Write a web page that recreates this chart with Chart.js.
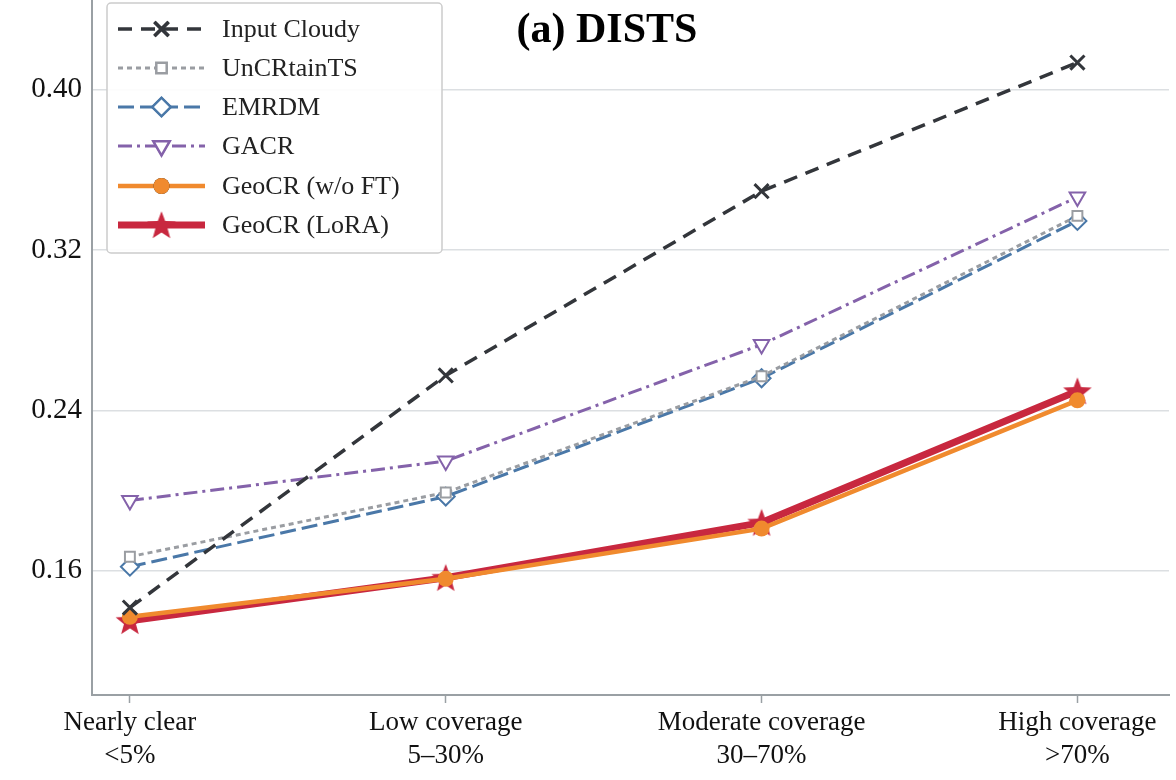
<!DOCTYPE html>
<html><head><meta charset="utf-8">
<script src="https://cdn.jsdelivr.net/npm/chart.js@4"></script>
<style>body{margin:0;background:#fff}#c{display:block}
#wrap{width:1176px;height:780px;overflow:hidden;position:relative}
#inner{position:absolute;left:0;top:-26px;width:1191px;height:806px}</style>
</head><body>
<div id="wrap"><div id="inner"><canvas id="c"></canvas></div></div>
<script>
const categories = [["Nearly clear", "<5%"], ["Low coverage", "5–30%"], ["Moderate coverage", "30–70%"], ["High coverage", ">70%"]];
const yTicks = [0.16, 0.24, 0.32, 0.40];
const inputCloudy = [0.1416, 0.2574, 0.3493, 0.4135];
const uncrtaints = [0.167, 0.199, 0.257, 0.337];
const emrdm = [0.162, 0.197, 0.256, 0.3345];
const gacr = [0.195, 0.2147, 0.2728, 0.3464];
const geocrNoFT = [0.137, 0.156, 0.181, 0.245];
const geocrLora = [0.135, 0.1565, 0.184, 0.2496];

const FONT = "'Liberation Serif', 'DejaVu Serif', serif";
const OY = 26;

function starImg(size, color) {
  const c = document.createElement("canvas");
  c.width = c.height = size;
  const g = c.getContext("2d");
  g.fillStyle = color;
  g.beginPath();
  for (let i = 0; i < 10; i++) {
    const r = i % 2 ? size * 0.21 : size * 0.5;
    const a = -Math.PI / 2 + i * Math.PI / 5;
    g.lineTo(size / 2 + r * Math.cos(a), size / 2 + r * Math.sin(a) + size * 0.04);
  }
  g.closePath();
  g.fill();
  return c;
}
const star = starImg(30, "#c8283f");

const pts = arr => arr.map((v, i) => ({ x: i, y: v }));

const series = [
  { label: "Input Cloudy", data: pts(inputCloudy), borderColor: "#33363b", borderWidth: 3.5, borderDash: [14, 9],
    pointStyle: "crossRot", pointRadius: 10, pointBorderWidth: 3, pointBorderColor: "#33363b" },
  { label: "UnCRtainTS", data: pts(uncrtaints), borderColor: "#9a9da2", borderWidth: 3, borderDash: [5, 4],
    pointStyle: "rect", pointRadius: 7, pointBorderWidth: 2, pointBorderColor: "#9a9da2", pointBackgroundColor: "#fff" },
  { label: "EMRDM", data: pts(emrdm), borderColor: "#4a78a8", borderWidth: 3, borderDash: [16, 6],
    pointStyle: "rectRot", pointRadius: 9, pointBorderWidth: 2, pointBorderColor: "#4a78a8", pointBackgroundColor: "#fff" },
  { label: "GACR", data: pts(gacr), borderColor: "#8462aa", borderWidth: 3, borderDash: [14, 5, 3, 5],
    pointStyle: "triangle", rotation: 180, pointRadius: 9, pointBorderWidth: 2, pointBorderColor: "#8462aa", pointBackgroundColor: "#fff" },
  { label: "GeoCR (w/o FT)", data: pts(geocrNoFT), borderColor: "#f08a2e", borderWidth: 4.5,
    pointStyle: "circle", pointRadius: 8, pointBorderWidth: 0, pointBackgroundColor: "#f08a2e" },
  { label: "GeoCR (LoRA)", data: pts(geocrLora), borderColor: "#c8283f", borderWidth: 7,
    pointStyle: star, pointRadius: 15 }
];

const overlay = {
  id: "overlay",
  afterDraw(chart) {
    const g = chart.ctx;
    g.save();
    g.translate(0, OY);
    g.font = "bold 42px " + FONT;
    g.fillStyle = "#000";
    g.textAlign = "center";
    g.textBaseline = "middle";
    g.fillText("(a) DISTS", 607, 31);
    g.fillStyle = "rgba(255,255,255,0.9)";
    g.strokeStyle = "#cccccc";
    g.lineWidth = 1.5;
    g.beginPath();
    g.roundRect(107, 3, 335, 250, 4);
    g.fill(); g.stroke();
    const rows = [29, 68, 107, 146, 186, 225];
    g.font = "26px " + FONT;
    g.textAlign = "left";
    series.forEach((s, i) => {
      const y = rows[i];
      g.strokeStyle = s.borderColor;
      g.lineWidth = s.borderWidth;
      g.setLineDash(s.borderDash || []);
      g.beginPath(); g.moveTo(118, y); g.lineTo(205, y); g.stroke();
      g.setLineDash([]);
      g.fillStyle = "#222";
      g.fillText(s.label, 222, y + 1);
      if (s.pointStyle === star) {
        g.drawImage(star, 161.5 - 15, y - 15);
      } else {
        Chart.helpers.drawPoint(g, {
          pointStyle: s.pointStyle, radius: s.pointRadius, rotation: s.rotation || 0,
          borderWidth: s.pointBorderWidth
        }, 161.5, y);
        g.fillStyle = s.pointBackgroundColor || "#fff";
        g.strokeStyle = s.pointBorderColor || s.borderColor;
        g.lineWidth = s.pointBorderWidth;
        if (s.pointBorderWidth) { g.fill(); g.stroke(); } else { g.fillStyle = s.pointBackgroundColor; g.fill(); }
      }
    });
    g.restore();
  }
};

new Chart(document.getElementById("c"), {
  type: "line",
  data: { datasets: series.map(s => Object.assign({ fill: false, tension: 0 }, s)) },
  plugins: [overlay],
  options: {
    responsive: true, maintainAspectRatio: false, animation: false,
    layout: { padding: { top: 0, right: 0, left: 0, bottom: 0 } },
    plugins: { legend: { display: false }, tooltip: { enabled: false } },
    scales: {
      x: {
        type: "linear", min: -0.12, max: 3.29,
        afterFit: s => { s.height = 85; },
        afterBuildTicks: s => { s.ticks = categories.map((_, i) => ({ value: i })); },
        ticks: { callback: v => categories[v], color: "#111", font: { family: FONT, size: 27 }, padding: 4, maxRotation: 0, autoSkip: false },
        grid: { display: true, drawOnChartArea: false, drawTicks: true, tickLength: 8, color: "#9aa0a4", tickWidth: 1.5 },
        border: { color: "#9aa0a4", width: 2 }
      },
      y: {
        min: 0.098, max: 0.444,
        afterFit: s => { s.width = 92; },
        afterBuildTicks: s => { s.ticks = yTicks.map(v => ({ value: v })); },
        ticks: { callback: v => v.toFixed(2), color: "#111", font: { family: FONT, size: 29 }, padding: 10 },
        grid: { color: "#dcdfe2", lineWidth: 1.5, drawTicks: false },
        border: { color: "#9aa0a4", width: 2 }
      }
    }
  }
});
</script>
</body></html>
